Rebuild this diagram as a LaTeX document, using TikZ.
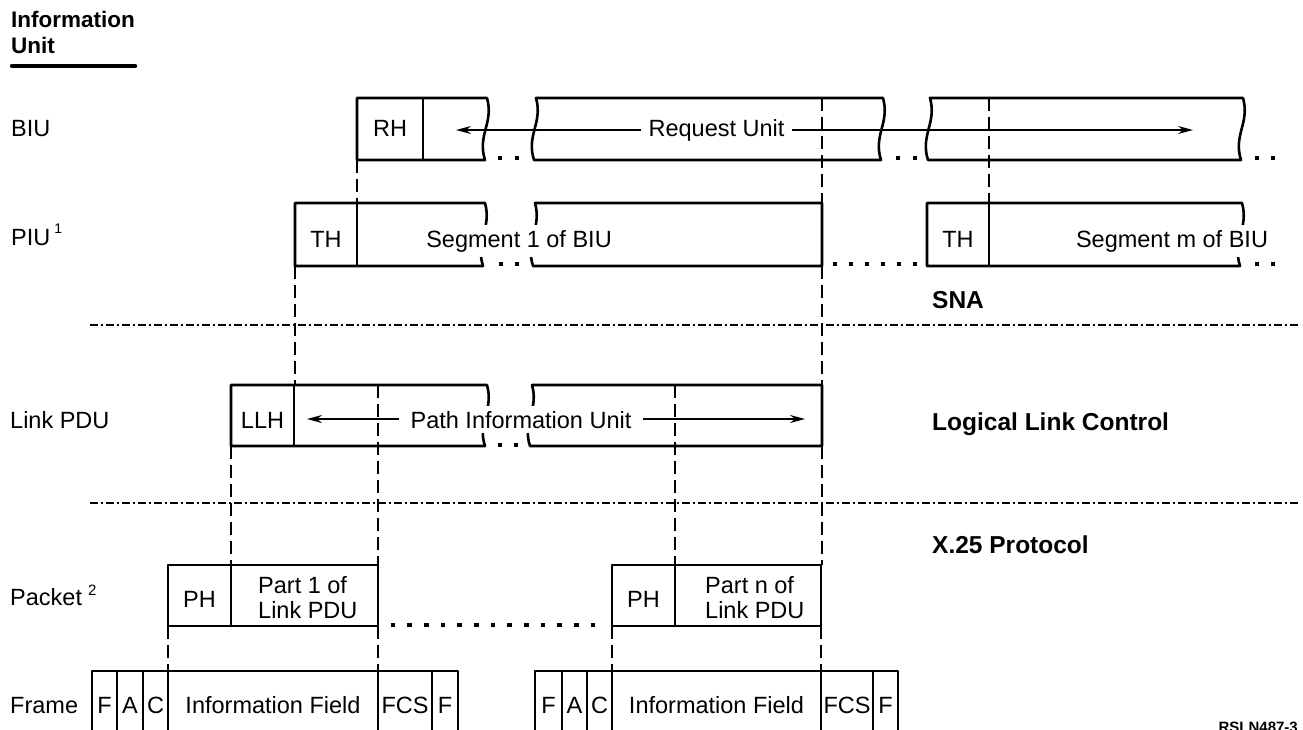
\documentclass[tikz,border=0pt]{standalone}
\usepackage{fontspec}
\setmainfont{Liberation Sans}
\usetikzlibrary{arrows.meta}
\begin{document}
\begin{tikzpicture}[x=1pt,y=-1pt,
  box/.style={line width=2.6pt,line join=round},
  div/.style={line width=1.3pt},
  guide/.style={line width=1.8pt,dash pattern=on 13pt off 6pt},
  layer/.style={line width=1.1pt,dash pattern=on 8pt off 3pt on 2pt off 3pt},
  txt/.style={font=\fontsize{23.5}{25}\selectfont,inner sep=0pt,anchor=base},
  ltxt/.style={txt,anchor=base west},
  btxt/.style={font=\bfseries\fontsize{24.5}{26}\selectfont,inner sep=0pt,anchor=base west},
  mask/.style={fill=white,inner ysep=5pt},
  arr/.style={line width=1.4pt,{Stealth[length=15pt,width=8pt]}-{Stealth[length=15pt,width=8pt]}},
  sq/.style={fill=black}]
\useasboundingbox (0,0) rectangle (1303,730);
\newcommand\sqd[2]{\fill[sq,shift={(#1,#2)}] (-2.3,-2.3) rectangle (2.3,2.3);}

% title
\node[font=\bfseries\fontsize{22.5}{24}\selectfont,inner sep=0pt,anchor=base west] (t1) at (11,28) {Information};
\node[font=\bfseries\fontsize{22.5}{24}\selectfont,inner sep=0pt,anchor=base west] (t2) at (11,54) {Unit};
\draw[line width=4.5pt,line cap=round] (12,66) -- (135,66);

% left labels
\node[ltxt] (lbiu) at (11,137) {BIU};
\node[ltxt] (lpiu) at (11,245) {PIU\hspace{4pt}\raisebox{12pt}{\fontsize{14}{14}\selectfont 1}};
\node[ltxt] (llink) at (10,428) {Link PDU};
\node[ltxt] (lpack) at (10,605) {Packet\hspace{6pt}\raisebox{10pt}{\fontsize{15}{15}\selectfont 2}};
\node[ltxt] (lframe) at (10,713) {Frame};

% right labels
\node[btxt] (sna) at (932,308) {SNA};
\node[btxt] (llc) at (932,430) {Logical Link Control};
\node[btxt] (x25) at (932,553) {X.25 Protocol};
\node[font=\bfseries\fontsize{15}{16}\selectfont,inner sep=0pt,anchor=north east] (ref) at (1298,722) {RSLN487-3};

% layer separators
\draw[layer] (90,325) -- (1300,325);
\draw[layer] (90,503) -- (1300,503);

% dashed guides
\draw[guide] (357,160) -- (357,203);
\draw[guide] (295,266) -- (295,385);
\draw[guide] (822,98) -- (822,203);
\draw[guide] (822,266) -- (822,385);
\draw[guide] (822,446) -- (822,565);
\draw[guide] (821,626) -- (821,671);
\draw[guide] (989,98) -- (989,203);
\draw[guide] (231,446) -- (231,565);
\draw[guide] (378,385) -- (378,565);
\draw[guide] (378,626) -- (378,671);
\draw[guide] (675,385) -- (675,565);
\draw[guide] (168,626) -- (168,671);
\draw[guide] (612,626) -- (612,671);

% BIU row
\draw[box] (487,98) -- (357,98) -- (357,160) -- (485,160) .. controls (477,135) and (494,123) .. (487,98) -- cycle;
\draw[div] (423,98) -- (423,160);
\draw[box] (536,98) -- (883,98) .. controls (890,123) and (873,135) .. (881,160) -- (534,160) .. controls (526,135) and (543,123) .. (536,98) -- cycle;
\draw[box] (930,98) -- (1243,98) .. controls (1250,123) and (1233,135) .. (1241,160) -- (928,160) .. controls (920,135) and (937,123) .. (930,98) -- cycle;
\node[txt] (rh) at (390,137) {RH};
\coordinate (ruL) at (456,130);
\coordinate (ruR) at (1193,130);
\draw[arr] (ruL) -- (ruR);
\node[txt,fill=white,inner xsep=8pt,inner ysep=2pt] (ru) at (716.5,137) {Request Unit};
\foreach \x in {500,517,898,915,1257,1273} {\sqd{\x}{158}}

% PIU row
\draw[box] (485,203) -- (295,203) -- (295,266) -- (483,266) .. controls (475,241) and (492,228) .. (485,203) -- cycle;
\draw[div] (357,203) -- (357,266);
\draw[box] (535,203) -- (822,203) -- (822,266) -- (533,266) .. controls (525,241) and (542,228) .. (535,203) -- cycle;
\draw[box] (927,203) -- (1242,203) .. controls (1249,228) and (1232,241) .. (1240,266) -- (927,266) -- cycle;
\draw[div] (989,203) -- (989,266);
\node[txt] (th1) at (326,247) {TH};
\node[txt] (th2) at (958,247) {TH};
\node[txt,mask,inner xsep=2pt] (seg1) at (519,247) {Segment 1 of BIU};
\node[txt,mask,inner xsep=2pt] (segm) at (1172,247) {Segment m of BIU};
\foreach \x in {501,517,835,851,867,883,899,915,1257,1273} {\sqd{\x}{264}}

% Link PDU row
\draw[box] (487,385) -- (231,385) -- (231,446) -- (485,446) .. controls (477,422) and (494,410) .. (487,385) -- cycle;
\draw[div] (294,385) -- (294,446);
\draw[box] (532,385) -- (822,385) -- (822,446) -- (530,446) .. controls (522,422) and (539,410) .. (532,385) -- cycle;
\node[txt] (llh) at (262.5,428) {LLH};
\coordinate (piL) at (307,419);
\coordinate (piR) at (805,419);
\draw[arr] (piL) -- (piR);
\node[txt,mask,inner xsep=12pt] (piu) at (521,428) {Path Information Unit};
\foreach \x in {500,516} {\sqd{\x}{445}}

% Packet row
\draw[box] (168,565) rectangle (378,626);
\draw[div] (231,565) -- (231,626);
\node[txt] (ph1) at (199.5,607) {PH};
\node[ltxt] (p1a) at (258,593) {Part 1 of};
\node[ltxt] (p1b) at (258,618) {Link PDU};
\draw[box] (612,565) rectangle (821,626);
\draw[div] (675,565) -- (675,626);
\node[txt] (ph2) at (643.5,607) {PH};
\node[ltxt] (pna) at (705,593) {Part n of};
\node[ltxt] (pnb) at (705,618) {Link PDU};
\foreach \i in {0,...,12} {\sqd{393+16.67*\i}{625}}

% Frame row
\draw[box] (92,745) -- (92,671) -- (458,671) -- (458,745);
\foreach \x in {117,143,168,378,432} {\draw[div] (\x,671) -- (\x,745);}
\node[txt] (f1a) at (104.5,713) {F};
\node[txt] (f1b) at (130,713) {A};
\node[txt] (f1c) at (155.5,713) {C};
\node[txt] (f1d) at (273,713) {Information Field};
\node[txt] (f1e) at (405,713) {FCS};
\node[txt] (f1f) at (445,713) {F};
\draw[box] (535,745) -- (535,671) -- (898,671) -- (898,745);
\foreach \x in {562,587,612,821,873} {\draw[div] (\x,671) -- (\x,745);}
\node[txt] (f2a) at (548.5,713) {F};
\node[txt] (f2b) at (574.5,713) {A};
\node[txt] (f2c) at (599.5,713) {C};
\node[txt] (f2d) at (716.5,713) {Information Field};
\node[txt] (f2e) at (847,713) {FCS};
\node[txt] (f2f) at (885.5,713) {F};
\end{tikzpicture}
\end{document}
